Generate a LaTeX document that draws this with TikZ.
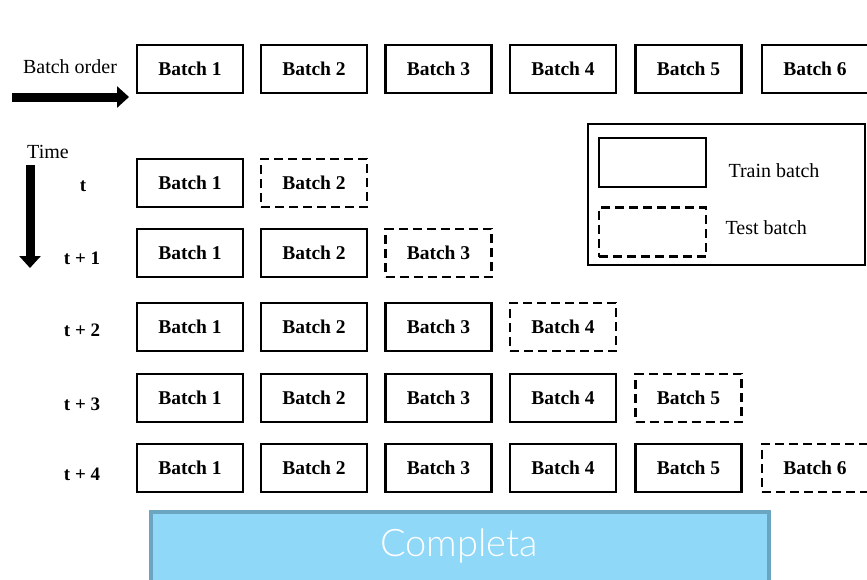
\documentclass[tikz,border=0pt]{standalone}
\usepackage{fontspec}
\setmainfont{Liberation Serif}
\newfontfamily\compfont{Lato}[UprightFont=* Light]
\usetikzlibrary{arrows.meta}
\begin{document}
\begin{tikzpicture}[x=1pt,y=-1pt,
  train/.style={draw=black,line width=2.8pt,minimum width=106pt,minimum height=48pt,inner sep=0pt,font=\fontsize{19.5}{22}\selectfont\bfseries},
  test/.style={train,dashed,dash pattern=on 9pt off 5pt},
  lbl/.style={font=\fontsize{20}{24}\selectfont},
  tlbl/.style={font=\fontsize{19}{22}\selectfont\bfseries},
  bigarrow/.style={line width=9pt,-{Triangle[length=12pt,width=21pt]}}]
\useasboundingbox (0,0) rectangle (867,579);
\clip (0,0) rectangle (867,579);
% top row
\node[lbl] (order) at (70,67) {Batch order};
\coordinate (oa) at (12,97);
\coordinate (ob) at (129,97);
\draw[bigarrow] (oa) -- (ob);
\foreach \i/\x in {1/190,2/314,3/438.5,4/563,5/688.5,6/815}{
  \node[train] (o\i) at (\x,69) {Batch \i};
}
% time
\node[lbl] (time) at (48,152) {Time};
\coordinate (ta) at (30,165);
\coordinate (tb) at (30,268);
\draw[bigarrow] (ta) -- (tb);
% rows
\node[tlbl] (l0) at (83,186) {t};
\node[tlbl] (l1) at (82,258) {t + 1};
\node[tlbl] (l2) at (82,330) {t + 2};
\node[tlbl] (l3) at (82,404) {t + 3};
\node[tlbl] (l4) at (82,474) {t + 4};
% row t
\node[train] (a1) at (190,183) {Batch 1};
\node[test] (a2) at (314,183) {Batch 2};
% row t+1
\node[train] (b1) at (190,253) {Batch 1};
\node[train] (b2) at (314,253) {Batch 2};
\node[test] (b3) at (438.5,253) {Batch 3};
% row t+2
\node[train] (c1) at (190,327) {Batch 1};
\node[train] (c2) at (314,327) {Batch 2};
\node[train] (c3) at (438.5,327) {Batch 3};
\node[test] (c4) at (563,327) {Batch 4};
% row t+3
\node[train] (d1) at (190,398) {Batch 1};
\node[train] (d2) at (314,398) {Batch 2};
\node[train] (d3) at (438.5,398) {Batch 3};
\node[train] (d4) at (563,398) {Batch 4};
\node[test] (d5) at (688.5,398) {Batch 5};
% row t+4
\node[train] (e1) at (190,468) {Batch 1};
\node[train] (e2) at (314,468) {Batch 2};
\node[train] (e3) at (438.5,468) {Batch 3};
\node[train] (e4) at (563,468) {Batch 4};
\node[train] (e5) at (688.5,468) {Batch 5};
\node[test] (e6) at (815,468) {Batch 6};
% legend
\node[draw=black,line width=1.2pt,minimum width=277pt,minimum height=141pt,inner sep=0pt] (legend) at (726.5,194.5) {};
\node[draw=black,line width=2.8pt,minimum width=107pt,minimum height=49pt,inner sep=0pt] (ltrain) at (652.5,162.5) {};
\node[draw=black,line width=2.8pt,dashed,dash pattern=on 9pt off 5pt,minimum width=107pt,minimum height=49pt,inner sep=0pt] (ltest) at (652.5,232) {};
\node[lbl,anchor=west] (ttrain) at (725,171) {Train batch};
\node[lbl,anchor=west] (ttest) at (722,228) {Test batch};
% bottom bar
\node[draw={rgb,255:red,107;green,165;blue,192},fill={rgb,255:red,143;green,216;blue,248},line width=4pt,minimum width=618pt,minimum height=72pt,inner sep=0pt] (bar) at (460,548) {};
\node[text=white,font=\compfont\fontsize{38}{40}\selectfont] (comp) at (459,546) {Completa};
\end{tikzpicture}
\end{document}
